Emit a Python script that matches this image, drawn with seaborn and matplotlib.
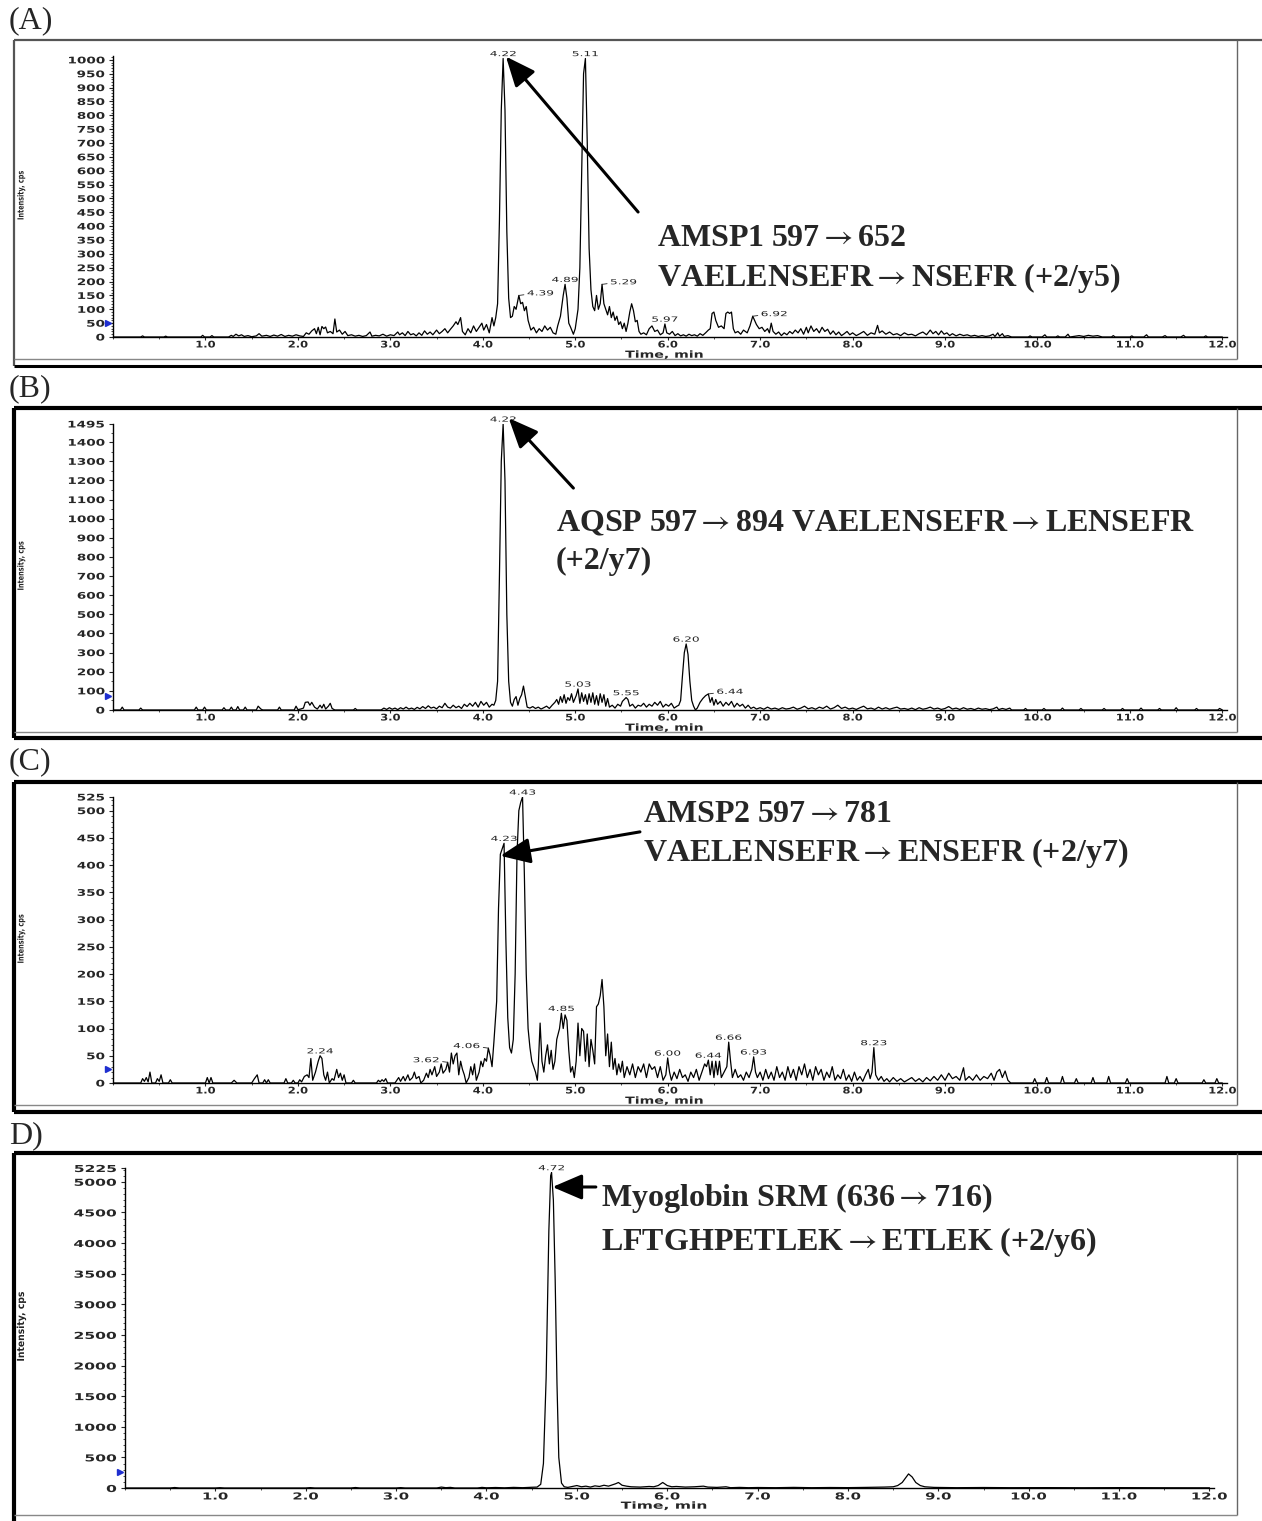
import matplotlib
matplotlib.use("Agg")
import matplotlib.pyplot as plt
import matplotlib.transforms as mtransforms
from matplotlib import patheffects
from matplotlib.lines import Line2D
from matplotlib.ticker import MultipleLocator
import pandas as pd
import seaborn as sns

sns.set_style("ticks")
plt.rcParams["font.family"] = ["DejaVu Sans"]
plt.rcParams["mathtext.fontset"] = "stix"

W, H = 1262, 1521
SERIF = ["Liberation Serif", "DejaVu Serif"]
ARROW = r"$\rightarrow$"

# ---------------------------------------------------------------- data
# (retention time [min], intensity [cps]) vertices of each SRM trace
trace_a = [
    (0.00, 0), (0.30, 0), (0.32, 4), (0.34, 0), (0.55, 0), (0.57, 3), (0.59, 0), (0.95, 0), (0.97, 6), (0.99, 0),
    (1.05, 0), (1.07, 5), (1.09, 0), (1.25, 0), (1.28, 6), (1.30, 2), (1.33, 10), (1.36, 4), (1.39, 8), (1.42, 2),
    (1.46, 5), (1.50, 1), (1.55, 4), (1.58, 12), (1.61, 3), (1.66, 6), (1.70, 2), (1.74, 7), (1.78, 3), (1.82, 9),
    (1.86, 2), (1.90, 6), (1.94, 3), (1.98, 8), (2.02, 4), (2.06, 2), (2.09, 15), (2.12, 10), (2.15, 22), (2.18, 30),
    (2.20, 12), (2.22, 35), (2.24, 8), (2.26, 38), (2.28, 30), (2.30, 36), (2.32, 15), (2.35, 20), (2.38, 12), (2.40, 65),
    (2.42, 18), (2.45, 25), (2.48, 10), (2.51, 20), (2.54, 5), (2.58, 8), (2.62, 3), (2.66, 6), (2.70, 2), (2.74, 5),
    (2.78, 18), (2.80, 3), (2.84, 6), (2.88, 4), (2.92, 10), (2.96, 3), (3.00, 8), (3.04, 5), (3.08, 18), (3.10, 8),
    (3.13, 15), (3.16, 5), (3.19, 20), (3.22, 8), (3.25, 12), (3.28, 4), (3.31, 15), (3.34, 6), (3.37, 22), (3.40, 10),
    (3.43, 18), (3.46, 8), (3.50, 25), (3.53, 12), (3.56, 20), (3.59, 30), (3.62, 15), (3.65, 28), (3.68, 40), (3.71, 55),
    (3.73, 45), (3.76, 70), (3.78, 20), (3.81, 8), (3.84, 30), (3.87, 15), (3.90, 40), (3.93, 20), (3.96, 35), (3.99, 50),
    (4.01, 25), (4.04, 45), (4.07, 15), (4.10, 70), (4.12, 40), (4.14, 70), (4.16, 120), (4.18, 420), (4.20, 820), (4.22, 1005),
    (4.24, 820), (4.26, 380), (4.28, 140), (4.30, 70), (4.32, 75), (4.34, 110), (4.36, 100), (4.39, 150), (4.41, 120), (4.43, 125),
    (4.45, 95), (4.47, 110), (4.49, 60), (4.52, 25), (4.55, 35), (4.58, 15), (4.61, 30), (4.64, 20), (4.67, 40), (4.70, 25),
    (4.73, 35), (4.76, 15), (4.79, 10), (4.81, 40), (4.84, 75), (4.87, 150), (4.89, 190), (4.91, 140), (4.93, 50), (4.95, 35),
    (4.98, 10), (5.00, 30), (5.03, 100), (5.05, 250), (5.07, 600), (5.09, 950), (5.11, 1005), (5.13, 700), (5.15, 320), (5.17, 170),
    (5.19, 110), (5.21, 95), (5.23, 150), (5.25, 100), (5.27, 120), (5.29, 190), (5.31, 120), (5.33, 100), (5.35, 80), (5.37, 110),
    (5.39, 70), (5.41, 90), (5.43, 60), (5.45, 75), (5.47, 45), (5.49, 55), (5.51, 30), (5.53, 50), (5.55, 20), (5.57, 50),
    (5.59, 90), (5.61, 120), (5.63, 95), (5.65, 55), (5.67, 60), (5.69, 20), (5.71, 10), (5.74, 15), (5.77, 8), (5.80, 30),
    (5.83, 40), (5.86, 20), (5.89, 25), (5.92, 8), (5.95, 15), (5.97, 47), (5.99, 15), (6.02, 10), (6.05, 20), (6.08, 5),
    (6.11, 12), (6.14, 4), (6.17, 8), (6.20, 3), (6.23, 10), (6.26, 5), (6.29, 8), (6.32, 3), (6.35, 12), (6.38, 6),
    (6.41, 15), (6.44, 25), (6.46, 30), (6.48, 85), (6.50, 90), (6.52, 60), (6.55, 35), (6.58, 40), (6.61, 30), (6.63, 85),
    (6.65, 90), (6.67, 85), (6.69, 90), (6.71, 30), (6.73, 15), (6.76, 20), (6.79, 10), (6.82, 25), (6.86, 15), (6.89, 40),
    (6.92, 75), (6.94, 60), (6.96, 45), (6.99, 30), (7.02, 35), (7.05, 20), (7.08, 30), (7.10, 15), (7.12, 50), (7.14, 20),
    (7.17, 10), (7.20, 18), (7.23, 5), (7.26, 15), (7.29, 8), (7.32, 20), (7.35, 12), (7.38, 25), (7.41, 15), (7.44, 30),
    (7.47, 10), (7.50, 35), (7.52, 15), (7.55, 40), (7.58, 20), (7.61, 30), (7.64, 15), (7.67, 35), (7.70, 20), (7.73, 28),
    (7.76, 10), (7.79, 22), (7.82, 8), (7.85, 18), (7.88, 5), (7.91, 12), (7.94, 20), (7.97, 8), (8.00, 15), (8.04, 5),
    (8.08, 12), (8.12, 20), (8.16, 6), (8.20, 15), (8.24, 10), (8.27, 42), (8.29, 15), (8.32, 22), (8.36, 10), (8.40, 18),
    (8.44, 8), (8.48, 12), (8.52, 5), (8.56, 15), (8.60, 8), (8.64, 10), (8.68, 4), (8.72, 12), (8.76, 18), (8.80, 8),
    (8.84, 25), (8.87, 12), (8.90, 20), (8.93, 8), (8.96, 22), (8.99, 10), (9.02, 15), (9.05, 5), (9.08, 12), (9.12, 4),
    (9.16, 10), (9.20, 5), (9.24, 8), (9.28, 3), (9.32, 6), (9.36, 2), (9.40, 5), (9.44, 2), (9.48, 4), (9.52, 10),
    (9.54, 2), (9.57, 15), (9.59, 3), (9.62, 12), (9.64, 2), (9.68, 5), (9.72, 0), (9.90, 0), (9.92, 4), (9.94, 0),
    (10.05, 0), (10.08, 8), (10.10, 0), (10.20, 0), (10.22, 4), (10.24, 0), (10.30, 0), (10.33, 10), (10.35, 0), (10.45, 5),
    (10.50, 2), (10.55, 6), (10.60, 3), (10.65, 5), (10.70, 0), (10.80, 0), (10.82, 5), (10.84, 0), (11.00, 0), (11.02, 4),
    (11.04, 0), (11.15, 0), (11.18, 8), (11.20, 0), (11.35, 0), (11.38, 5), (11.40, 0), (11.55, 0), (11.58, 6), (11.60, 0),
    (11.80, 0), (11.82, 4), (11.84, 0), (12.00, 0),
]

trace_b = [
    (0.00, 0), (0.08, 0), (0.10, 15), (0.12, 0), (0.28, 0), (0.30, 10), (0.32, 0), (0.88, 0), (0.90, 15), (0.92, 0),
    (0.97, 0), (0.99, 15), (1.01, 0), (1.18, 0), (1.20, 12), (1.22, 0), (1.26, 0), (1.28, 15), (1.30, 0), (1.33, 0),
    (1.35, 18), (1.37, 0), (1.41, 0), (1.43, 15), (1.45, 0), (1.55, 0), (1.57, 20), (1.60, 5), (1.62, 0), (1.78, 0),
    (1.80, 15), (1.82, 0), (1.96, 0), (1.98, 20), (2.00, 2), (2.03, 5), (2.06, 10), (2.08, 40), (2.11, 42), (2.13, 25),
    (2.15, 40), (2.18, 15), (2.21, 5), (2.24, 25), (2.26, 10), (2.28, 30), (2.30, 5), (2.33, 20), (2.35, 35), (2.37, 8),
    (2.40, 0), (2.60, 0), (2.62, 8), (2.64, 0), (2.90, 0), (2.93, 10), (2.96, 3), (2.99, 12), (3.02, 4), (3.05, 10),
    (3.08, 2), (3.11, 12), (3.14, 5), (3.17, 15), (3.20, 5), (3.23, 10), (3.26, 3), (3.29, 14), (3.32, 6), (3.35, 18),
    (3.38, 8), (3.41, 22), (3.44, 10), (3.47, 15), (3.50, 6), (3.53, 20), (3.56, 12), (3.59, 35), (3.62, 15), (3.65, 10),
    (3.68, 25), (3.71, 12), (3.74, 20), (3.77, 8), (3.80, 30), (3.83, 18), (3.86, 35), (3.89, 20), (3.92, 40), (3.95, 15),
    (3.98, 45), (4.01, 25), (4.04, 40), (4.07, 15), (4.10, 30), (4.12, 25), (4.14, 50), (4.16, 150), (4.18, 700), (4.20, 1300),
    (4.22, 1495), (4.24, 1200), (4.26, 500), (4.28, 150), (4.30, 40), (4.32, 20), (4.34, 55), (4.36, 70), (4.38, 25), (4.40, 60),
    (4.42, 80), (4.44, 125), (4.46, 70), (4.48, 15), (4.51, 10), (4.54, 18), (4.57, 8), (4.60, 15), (4.63, 5), (4.66, 12),
    (4.69, 20), (4.72, 8), (4.75, 25), (4.78, 40), (4.80, 55), (4.82, 30), (4.84, 70), (4.86, 40), (4.88, 80), (4.90, 35),
    (4.92, 65), (4.94, 50), (4.96, 85), (4.98, 40), (5.01, 75), (5.03, 110), (5.05, 35), (5.07, 90), (5.09, 45), (5.11, 80),
    (5.13, 30), (5.15, 85), (5.17, 40), (5.19, 90), (5.21, 30), (5.23, 75), (5.25, 25), (5.27, 85), (5.29, 40), (5.31, 80),
    (5.33, 20), (5.35, 60), (5.37, 15), (5.40, 25), (5.43, 10), (5.46, 30), (5.49, 20), (5.51, 45), (5.53, 55), (5.55, 65),
    (5.57, 55), (5.59, 20), (5.62, 30), (5.65, 10), (5.68, 25), (5.71, 20), (5.74, 35), (5.77, 15), (5.80, 30), (5.83, 20),
    (5.86, 40), (5.89, 25), (5.92, 45), (5.95, 15), (5.98, 30), (6.01, 20), (6.04, 35), (6.07, 10), (6.10, 20), (6.12, 25),
    (6.14, 50), (6.16, 180), (6.18, 300), (6.20, 345), (6.22, 290), (6.24, 150), (6.26, 50), (6.28, 20), (6.30, 0), (6.32, 10),
    (6.35, 40), (6.38, 60), (6.41, 75), (6.44, 84), (6.46, 40), (6.48, 65), (6.50, 25), (6.52, 55), (6.54, 30), (6.57, 45),
    (6.60, 20), (6.63, 40), (6.66, 25), (6.69, 45), (6.72, 15), (6.75, 35), (6.78, 20), (6.81, 30), (6.84, 10), (6.87, 25),
    (6.90, 8), (6.93, 15), (6.96, 5), (7.00, 12), (7.04, 4), (7.08, 15), (7.12, 5), (7.16, 10), (7.20, 3), (7.24, 12),
    (7.28, 5), (7.32, 8), (7.36, 15), (7.40, 4), (7.44, 10), (7.48, 20), (7.52, 6), (7.56, 12), (7.60, 4), (7.64, 15),
    (7.68, 8), (7.72, 20), (7.76, 5), (7.80, 12), (7.84, 25), (7.88, 8), (7.92, 15), (7.96, 5), (8.00, 10), (8.04, 3),
    (8.08, 12), (8.12, 20), (8.16, 6), (8.20, 10), (8.24, 3), (8.28, 15), (8.32, 5), (8.36, 12), (8.40, 4), (8.44, 10),
    (8.48, 15), (8.52, 5), (8.56, 8), (8.60, 3), (8.64, 10), (8.68, 2), (8.72, 12), (8.76, 4), (8.80, 8), (8.84, 15),
    (8.88, 5), (8.92, 10), (8.96, 3), (9.00, 8), (9.04, 18), (9.08, 5), (9.12, 10), (9.16, 3), (9.20, 12), (9.24, 4),
    (9.28, 8), (9.32, 2), (9.36, 10), (9.40, 4), (9.44, 7), (9.48, 2), (9.52, 6), (9.56, 15), (9.58, 2), (9.62, 8),
    (9.66, 3), (9.70, 10), (9.72, 0), (9.85, 0), (9.87, 8), (9.89, 0), (10.05, 0), (10.07, 8), (10.09, 0), (10.25, 0),
    (10.27, 10), (10.29, 0), (10.45, 0), (10.47, 8), (10.49, 0), (10.70, 0), (10.72, 8), (10.74, 0), (10.90, 0), (10.92, 8),
    (10.94, 0), (11.10, 0), (11.12, 10), (11.14, 0), (11.30, 0), (11.32, 8), (11.34, 0), (11.48, 0), (11.50, 12), (11.52, 0),
    (11.70, 0), (11.72, 8), (11.74, 0), (11.95, 0), (11.97, 8), (12.00, 0),
]

trace_c = [
    (0.00, 0), (0.30, 0), (0.32, 8), (0.34, 3), (0.36, 10), (0.38, 2), (0.40, 20), (0.42, 0), (0.46, 0), (0.48, 8),
    (0.50, 3), (0.52, 15), (0.54, 0), (0.60, 0), (0.62, 6), (0.64, 0), (1.00, 0), (1.02, 10), (1.04, 0), (1.06, 10),
    (1.08, 0), (1.28, 0), (1.31, 5), (1.34, 0), (1.50, 0), (1.53, 8), (1.56, 15), (1.58, 0), (1.62, 0), (1.64, 6),
    (1.66, 0), (1.68, 6), (1.70, 0), (1.85, 0), (1.87, 8), (1.89, 0), (1.93, 0), (1.95, 5), (1.97, 0), (2.00, 0),
    (2.02, 6), (2.04, 2), (2.07, 12), (2.10, 15), (2.12, 10), (2.14, 45), (2.16, 5), (2.19, 20), (2.22, 40), (2.24, 50),
    (2.26, 45), (2.28, 15), (2.30, 5), (2.32, 20), (2.34, 0), (2.37, 8), (2.39, 5), (2.42, 25), (2.44, 10), (2.46, 18),
    (2.48, 5), (2.50, 15), (2.52, 0), (2.58, 0), (2.60, 5), (2.62, 0), (2.85, 0), (2.87, 5), (2.89, 2), (2.91, 6),
    (2.93, 3), (2.95, 8), (2.97, 0), (3.05, 0), (3.07, 5), (3.09, 10), (3.11, 3), (3.14, 12), (3.16, 4), (3.19, 15),
    (3.21, 5), (3.24, 10), (3.26, 20), (3.28, 8), (3.31, 12), (3.33, 0), (3.36, 5), (3.39, 18), (3.41, 10), (3.43, 25),
    (3.45, 15), (3.48, 30), (3.50, 12), (3.53, 20), (3.55, 35), (3.57, 18), (3.60, 25), (3.62, 38), (3.64, 20), (3.66, 55),
    (3.68, 35), (3.70, 50), (3.72, 55), (3.74, 15), (3.76, 40), (3.78, 25), (3.80, 15), (3.82, 0), (3.85, 10), (3.87, 30),
    (3.89, 15), (3.91, 35), (3.93, 5), (3.96, 20), (3.98, 40), (4.00, 30), (4.02, 45), (4.04, 40), (4.06, 64), (4.08, 50),
    (4.10, 30), (4.12, 75), (4.15, 150), (4.17, 320), (4.19, 420), (4.21, 430), (4.23, 440), (4.25, 260), (4.27, 120), (4.29, 65),
    (4.31, 55), (4.33, 80), (4.35, 200), (4.37, 420), (4.39, 500), (4.41, 515), (4.43, 525), (4.45, 380), (4.47, 200), (4.49, 100),
    (4.51, 65), (4.53, 40), (4.55, 30), (4.57, 20), (4.59, 5), (4.60, 30), (4.62, 110), (4.64, 40), (4.66, 20), (4.68, 50),
    (4.70, 70), (4.72, 35), (4.74, 60), (4.76, 25), (4.78, 40), (4.80, 80), (4.83, 100), (4.85, 128), (4.87, 100), (4.89, 125),
    (4.91, 115), (4.93, 60), (4.95, 20), (4.97, 30), (4.99, 10), (5.01, 40), (5.03, 110), (5.05, 50), (5.07, 100), (5.09, 95),
    (5.11, 40), (5.13, 90), (5.15, 30), (5.17, 80), (5.19, 60), (5.21, 35), (5.23, 140), (5.25, 145), (5.27, 160), (5.29, 190),
    (5.31, 140), (5.33, 50), (5.35, 90), (5.37, 30), (5.39, 75), (5.41, 25), (5.43, 45), (5.45, 15), (5.47, 35), (5.49, 20),
    (5.51, 40), (5.53, 10), (5.56, 30), (5.59, 15), (5.62, 35), (5.65, 10), (5.68, 30), (5.71, 20), (5.74, 35), (5.77, 10),
    (5.80, 35), (5.83, 25), (5.86, 30), (5.89, 10), (5.92, 30), (5.95, 5), (5.98, 15), (6.00, 46), (6.02, 20), (6.04, 5),
    (6.07, 20), (6.10, 8), (6.13, 25), (6.16, 10), (6.19, 15), (6.22, 3), (6.25, 20), (6.28, 10), (6.31, 25), (6.34, 5),
    (6.37, 20), (6.40, 35), (6.42, 30), (6.44, 42), (6.46, 15), (6.48, 40), (6.50, 10), (6.52, 40), (6.54, 15), (6.56, 40),
    (6.58, 10), (6.61, 20), (6.64, 30), (6.66, 75), (6.68, 40), (6.70, 10), (6.73, 25), (6.76, 10), (6.79, 15), (6.82, 5),
    (6.85, 20), (6.88, 10), (6.91, 25), (6.93, 48), (6.95, 20), (6.97, 10), (7.00, 20), (7.03, 5), (7.06, 25), (7.09, 8),
    (7.12, 20), (7.15, 5), (7.18, 30), (7.21, 10), (7.24, 20), (7.27, 5), (7.30, 30), (7.33, 10), (7.36, 25), (7.39, 5),
    (7.42, 30), (7.45, 15), (7.48, 35), (7.51, 10), (7.54, 25), (7.57, 5), (7.60, 30), (7.63, 15), (7.66, 25), (7.69, 5),
    (7.72, 20), (7.75, 10), (7.78, 30), (7.81, 5), (7.84, 15), (7.87, 8), (7.90, 25), (7.93, 5), (7.96, 15), (7.99, 3),
    (8.02, 20), (8.05, 5), (8.08, 12), (8.11, 3), (8.14, 15), (8.17, 25), (8.19, 8), (8.21, 20), (8.23, 65), (8.25, 15),
    (8.28, 5), (8.31, 12), (8.34, 3), (8.37, 8), (8.40, 2), (8.44, 10), (8.48, 3), (8.52, 8), (8.56, 2), (8.60, 6),
    (8.64, 10), (8.68, 3), (8.72, 8), (8.76, 2), (8.80, 10), (8.84, 4), (8.88, 12), (8.92, 5), (8.96, 15), (9.00, 5),
    (9.04, 18), (9.08, 8), (9.12, 12), (9.16, 5), (9.20, 28), (9.22, 5), (9.26, 12), (9.30, 5), (9.34, 15), (9.38, 5),
    (9.42, 12), (9.46, 8), (9.50, 18), (9.53, 5), (9.56, 20), (9.59, 25), (9.62, 10), (9.65, 22), (9.68, 5), (9.71, 0),
    (9.95, 0), (9.97, 8), (9.99, 0), (10.08, 0), (10.10, 10), (10.12, 0), (10.25, 0), (10.27, 12), (10.29, 0), (10.40, 0),
    (10.42, 8), (10.44, 0), (10.58, 0), (10.60, 10), (10.62, 0), (10.75, 0), (10.77, 12), (10.79, 0), (10.95, 0), (10.97, 8),
    (10.99, 0), (11.38, 0), (11.40, 12), (11.42, 0), (11.48, 0), (11.50, 8), (11.52, 0), (11.78, 0), (11.80, 6), (11.82, 0),
    (11.92, 0), (11.94, 8), (11.96, 0), (12.00, 0),
]

trace_d = [
    (0.00, 0), (0.50, 0), (0.55, 8), (0.60, 0), (1.00, 0), (1.05, 5), (1.10, 0), (2.00, 0), (2.05, 6), (2.10, 0),
    (2.50, 0), (2.55, 8), (2.60, 0), (3.00, 0), (3.05, 6), (3.10, 0), (3.45, 0), (3.50, 15), (3.55, 5), (3.60, 10),
    (3.65, 0), (3.90, 0), (3.95, 10), (4.00, 3), (4.10, 8), (4.20, 3), (4.30, 10), (4.40, 5), (4.50, 12), (4.56, 15),
    (4.60, 60), (4.63, 400), (4.66, 1800), (4.69, 4200), (4.71, 5100), (4.72, 5150), (4.74, 4700), (4.76, 3400), (4.78, 1700), (4.80, 500),
    (4.83, 80), (4.86, 20), (4.90, 10), (4.95, 25), (5.00, 40), (5.05, 20), (5.10, 30), (5.15, 15), (5.20, 35), (5.25, 25),
    (5.30, 45), (5.35, 30), (5.40, 55), (5.43, 70), (5.46, 90), (5.50, 45), (5.55, 30), (5.60, 20), (5.70, 15), (5.80, 25),
    (5.85, 20), (5.90, 40), (5.95, 90), (6.00, 40), (6.05, 20), (6.10, 25), (6.20, 15), (6.30, 20), (6.40, 30), (6.45, 15),
    (6.55, 10), (6.65, 20), (6.70, 5), (6.80, 10), (6.90, 5), (7.00, 8), (7.20, 5), (7.40, 10), (7.60, 5), (7.80, 8),
    (8.00, 6), (8.20, 10), (8.40, 15), (8.50, 20), (8.55, 40), (8.60, 90), (8.64, 170), (8.67, 230), (8.71, 180), (8.75, 90),
    (8.80, 40), (8.85, 20), (8.95, 10), (9.20, 5), (9.50, 8), (9.80, 5), (10.20, 6), (10.60, 4), (11.00, 6), (11.50, 4),
    (12.00, 3),
]

# labelled retention times: (time, placement)
peaks_a = [(4.22, "top"), (5.11, "top"), (4.39, "right"), (4.89, "top"), (5.29, "right"), (5.97, "top"), (6.92, "right")]
peaks_b = [(4.22, "top"), (5.03, "top"), (5.55, "top"), (6.20, "top"), (6.44, "right")]
peaks_c = [(2.24, "top"), (3.62, "left"), (4.06, "left"), (4.23, "top"), (4.43, "top"), (4.85, "top"),
           (6.00, "top"), (6.44, "top"), (6.66, "top"), (6.93, "top"), (8.23, "top")]
peaks_d = [(4.72, "top")]

# y-axis ranges and tick values
ymax = [1014, 1495, 525, 5225]
yticks_a = list(range(0, 1001, 50))
yticks_b = list(range(0, 1401, 100)) + [1495]
yticks_c = list(range(0, 501, 50)) + [525]
yticks_d = list(range(0, 5001, 500)) + [5225]
yminor = [10, 50, 10, 100]
xticks = [1.0, 2.0, 3.0, 4.0, 5.0, 6.0, 7.0, 8.0, 9.0, 10.0, 11.0, 12.0]
threshold = [50, 73, 26, 261]

panel_tags = ["(A)", "(B)", "(C)", "D)"]
titles = [
    [f"AMSP1 597{ARROW}652", f"VAELENSEFR{ARROW}NSEFR (+2/y5)"],
    [f"AQSP 597{ARROW}894 VAELENSEFR{ARROW}LENSEFR", "(+2/y7)"],
    [f"AMSP2 597{ARROW}781", f"VAELENSEFR{ARROW}ENSEFR (+2/y7)"],
    [f"Myoglobin SRM (636{ARROW}716)", f"LFTGHPETLEK{ARROW}ETLEK (+2/y6)"],
]


class Widen(patheffects.AbstractPathEffect):
    """Draw text glyphs scaled along one display axis about a chosen edge."""

    def __init__(self, s, anchor="center", axis="x"):
        super().__init__()
        self._s = s
        self._anchor = anchor
        self._axis = axis

    def draw_path(self, renderer, gc, tpath, affine, rgbFace=None):
        if len(tpath.vertices) == 0:
            return
        ext = tpath.get_extents(affine)
        if self._axis == "y":
            py = 0.5 * (ext.y0 + ext.y1)
            t = affine + mtransforms.Affine2D().translate(0, -py).scale(1, self._s).translate(0, py)
        else:
            if self._anchor == "left":
                px = ext.x0
            elif self._anchor == "right":
                px = ext.x1
            else:
                px = 0.5 * (ext.x0 + ext.x1)
            t = affine + mtransforms.Affine2D().translate(-px, 0).scale(self._s, 1).translate(px, 0)
        renderer.draw_path(gc, tpath, t, rgbFace)


# ---------------------------------------------------------------- layout (pixels)
fig = plt.figure(figsize=(W / 100, H / 100), dpi=100)


def fx(px):
    return px / W


def fy(py):
    return 1 - py / H


def fig_line(x0, y0, x1, y1, lw, color):
    fig.add_artist(Line2D([fx(x0), fx(x1)], [fy(y0), fy(y1)], transform=fig.transFigure,
                          lw=lw, color=color, solid_capstyle="butt"))


panels = [
    dict(trace=trace_a, peaks=peaks_a, yticks=yticks_a, box=(40, 366, 359), ax=(113, 1227, 56, 337),
         tag_y=21, title_xy=(657, 246, 286), ylab=(6.0, 0.78), tick_size=6.6, ysx=1.48, xsx=1.25, tsx=1.45,
         arrow=((4.25, 1012), (5.68, 451))),
    dict(trace=trace_b, peaks=peaks_b, yticks=yticks_b, box=(408, 738, 732), ax=(113, 1227, 424, 710),
         tag_y=389, title_xy=(556, 531, 569), ylab=(6.0, 0.78), tick_size=6.6, ysx=1.48, xsx=1.25, tsx=1.45,
         arrow=((4.28, 1526), (4.98, 1160))),
    dict(trace=trace_c, peaks=peaks_c, yticks=yticks_c, box=(782, 1112, 1105), ax=(113, 1227, 797, 1083),
         tag_y=762, title_xy=(643, 822, 861), ylab=(6.0, 0.78), tick_size=6.6, ysx=1.48, xsx=1.25, tsx=1.45,
         arrow=((4.19, 417), (5.70, 461))),
    dict(trace=trace_d, peaks=peaks_d, yticks=yticks_d, box=(1153, 1524, 1515), ax=(125, 1214, 1168, 1488),
         tag_y=1136, title_xy=(601, 1206, 1250), ylab=(7.0, 0.95), tick_size=6.9, ysx=1.62, xsx=1.55, tsx=1.6,
         arrow=((4.73, 4915), (5.21, 4915))),
]

for i, p in enumerate(panels):
    top, bot, inner = p["box"]
    dark = "#555555" if i == 0 else "black"
    lw = 1.6 if i == 0 else 3.0
    fig_line(14, top, W, top, lw, dark)
    fig_line(14, top, 14, bot, lw, dark)
    fig_line(14, bot, W, bot, 2.2 if i == 0 else 3.0, "black")
    fig_line(1237, top, 1237, inner, 1.0, "#666666")
    fig_line(14, inner, 1237, inner, 1.0, "#888888")

    fig.text(fx(9), fy(p["tag_y"]), panel_tags[i], family=SERIF, fontsize=23,
             ha="left", va="center")

    left, right, atop, abot = p["ax"]
    ax = fig.add_axes([fx(left), fy(abot), (right - left) / W, (abot - atop) / H])
    ax.patch.set_alpha(0)

    df = pd.DataFrame(p["trace"], columns=["time", "cps"])
    sns.lineplot(data=df, x="time", y="cps", ax=ax, color="black", lw=0.9,
                 estimator=None, sort=False)

    ax.set_xlim(0, 12.05)
    ax.set_ylim(0, ymax[i])
    sns.despine(ax=ax)
    for s in ("left", "bottom"):
        ax.spines[s].set_linewidth(1.0)
        ax.spines[s].set_color("black")

    ax.set_yticks(p["yticks"])
    ax.set_yticklabels([str(v) for v in p["yticks"]])
    ax.yaxis.set_minor_locator(MultipleLocator(yminor[i]))
    ax.set_xticks(xticks)
    ax.set_xticklabels([f"{v:.1f}" for v in xticks])
    ax.xaxis.set_minor_locator(MultipleLocator(0.5))
    ax.tick_params(axis="y", which="major", length=3, width=0.8, labelsize=p["tick_size"], pad=3)
    ax.tick_params(axis="x", which="major", length=2, width=0.8, labelsize=p["tick_size"], pad=0.5)
    ax.tick_params(axis="both", which="minor", length=1.5, width=0.6, color="#333333")
    for lbl in ax.get_yticklabels():
        lbl.set_fontweight("bold")
        lbl.set_path_effects([Widen(p["ysx"], "right")])
    for lbl in ax.get_xticklabels():
        lbl.set_fontweight("bold")
        lbl.set_path_effects([Widen(p["xsx"], "center")])

    ax.set_xlabel("Time, min", fontsize=7, fontweight="bold",
                  path_effects=[Widen(p["tsx"], "center")])
    ax.xaxis.set_label_coords(0.495, -12.7 / (abot - atop))
    ax.xaxis.label.set_va("top")
    ylab_size, ylab_squeeze = p["ylab"]
    ax.set_ylabel("Intensity, cps", fontsize=ylab_size, fontweight="bold",
                  path_effects=[Widen(ylab_squeeze, axis="y")])
    ax.yaxis.label.set_va("center")
    ax.yaxis.set_label_coords((21 - left) / (right - left), 0.505)

    # detection threshold marker on the intensity axis
    trans = mtransforms.blended_transform_factory(ax.transAxes, ax.transData)
    ax.plot([-0.0045], [threshold[i]], marker=">", ms=4.5, color="#1f2fd0",
            transform=trans, clip_on=False, lw=0)

    # retention-time labels
    heights = dict(p["trace"])
    for t, where in p["peaks"]:
        h = heights[t]
        txt = f"{t:.2f}"
        style = dict(fontsize=5, color="#222222", annotation_clip=False)
        if where == "top":
            ax.annotate(txt, xy=(t, h), xytext=(0, 1), textcoords="offset points",
                        ha="center", va="bottom", path_effects=[Widen(1.75, "center")], **style)
        else:
            side = "left" if where == "right" else "right"
            dx = 6 if where == "right" else -6
            ax.annotate(txt, xy=(t, h), xytext=(dx, 1.5), textcoords="offset points",
                        ha=side, va="center", path_effects=[Widen(1.75, side)],
                        arrowprops=dict(arrowstyle="-", lw=0.6, color="#222222", shrinkA=0, shrinkB=0),
                        **style)

    # transition arrow and description
    head, tail = p["arrow"]
    ax.annotate("", xy=head, xytext=tail,
                arrowprops=dict(arrowstyle="-|>,head_length=0.7,head_width=0.3", lw=2.2,
                                color="black", shrinkA=0, shrinkB=0, mutation_scale=26),
                annotation_clip=False)
    tx, y1, y2 = p["title_xy"]
    fig.text(fx(tx), fy(y1), titles[i][0], family=SERIF, fontweight="bold", fontsize=23,
             ha="left", va="baseline")
    fig.text(fx(tx), fy(y2), titles[i][1], family=SERIF, fontweight="bold", fontsize=23,
             ha="left", va="baseline")

fig.savefig("out.png", dpi=100)
